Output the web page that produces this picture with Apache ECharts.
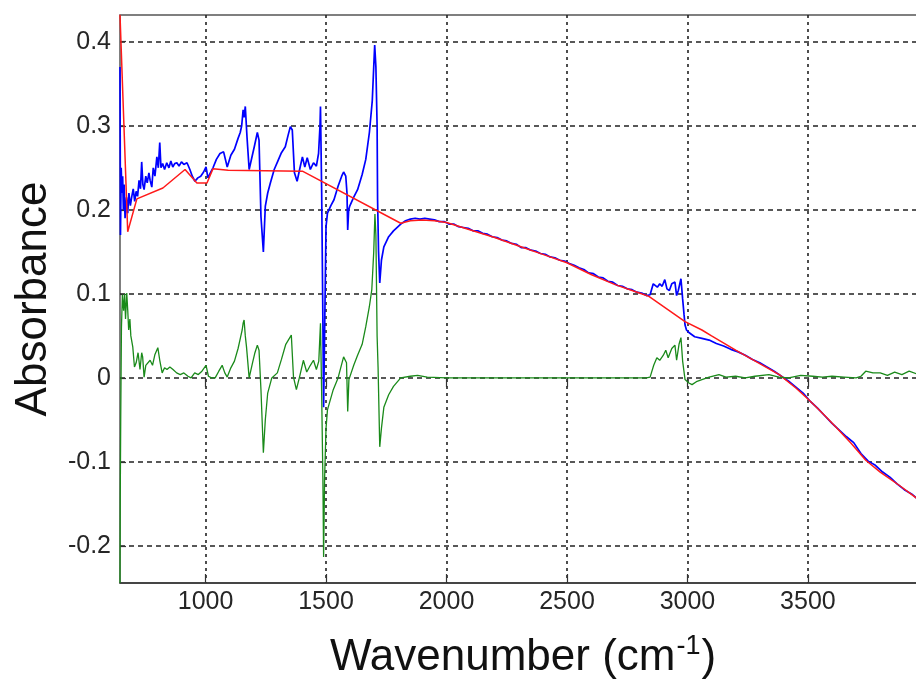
<!DOCTYPE html>
<html>
<head>
<meta charset="utf-8">
<script src="https://cdn.jsdelivr.net/npm/echarts@6/dist/echarts.min.js"></script>
<style>html,body{margin:0;padding:0;background:#fff;}#c{width:916px;height:679px;}</style>
</head>
<body>
<div id="c"></div>
<script>
// ---- data (wavenumber, absorbance) ----
const xTicks = [1000, 1500, 2000, 2500, 3000, 3500];
const yTicks = [-0.2, -0.1, 0, 0.1, 0.2, 0.3, 0.4];
const xRange = [645, 3990];
const yRange = [-0.244, 0.4318];

const blueSpectrum = [
[645,0.37],[647,0.17],[650,0.25],[653,0.22],[656,0.24],[659,0.20],[662,0.23],[666,0.19],[672,0.215],[677,0.196],[682,0.22],[688,0.205],[694,0.216],[700,0.225],[706,0.21],[712,0.222],[718,0.216],[724,0.235],[730,0.225],[735,0.257],[740,0.23],[745,0.224],[752,0.24],[758,0.232],[765,0.244],[770,0.235],[777,0.227],[783,0.25],[790,0.24],[798,0.263],[804,0.25],[810,0.28],[815,0.25],[822,0.255],[830,0.248],[839,0.256],[848,0.25],[856,0.258],[864,0.251],[872,0.255],[881,0.256],[890,0.252],[900,0.257],[910,0.254],[923,0.256],[935,0.248],[945,0.24],[956,0.234],[968,0.238],[980,0.24],[992,0.245],[1002,0.251],[1010,0.238],[1020,0.244],[1031,0.25],[1045,0.26],[1060,0.267],[1075,0.269],[1090,0.251],[1105,0.265],[1120,0.272],[1135,0.285],[1144,0.292],[1150,0.30],[1156,0.319],[1160,0.31],[1165,0.323],[1172,0.287],[1181,0.248],[1192,0.262],[1203,0.276],[1215,0.292],[1222,0.283],[1230,0.192],[1240,0.15],[1248,0.204],[1258,0.22],[1269,0.232],[1285,0.248],[1300,0.258],[1315,0.268],[1331,0.275],[1342,0.288],[1352,0.299],[1360,0.295],[1369,0.244],[1380,0.234],[1392,0.25],[1402,0.263],[1412,0.251],[1422,0.262],[1435,0.248],[1448,0.256],[1460,0.252],[1469,0.267],[1475,0.300],[1477,0.323],[1482,0.22],[1486,0.10],[1490,-0.035],[1494,0.05],[1500,0.18],[1506,0.196],[1520,0.205],[1533,0.212],[1550,0.228],[1565,0.24],[1573,0.245],[1582,0.24],[1587,0.22],[1590,0.176],[1594,0.2],[1598,0.204],[1615,0.215],[1631,0.224],[1650,0.242],[1665,0.26],[1680,0.292],[1692,0.33],[1698,0.37],[1702,0.396],[1707,0.37],[1712,0.30],[1714,0.212],[1718,0.15],[1723,0.113],[1730,0.14],[1740,0.156],[1760,0.168],[1780,0.175],
[1810,0.183],[1830,0.187],[1850,0.189],[1870,0.19],[1890,0.189],[1910,0.19],[1930,0.189],[1950,0.188],[1970,0.186],[1990,0.186],[2010,0.183],[2030,0.183],[2050,0.180],[2070,0.179],[2090,0.178],[2110,0.175],[2130,0.175],[2150,0.172],[2170,0.171],[2190,0.168],[2210,0.167],[2230,0.164],[2250,0.163],[2270,0.160],[2290,0.159],[2310,0.155],[2330,0.155],[2350,0.152],[2370,0.151],[2390,0.148],[2410,0.147],[2430,0.144],[2450,0.143],[2470,0.140],[2490,0.139],[2510,0.136],[2530,0.134],[2550,0.131],[2570,0.129],[2590,0.125],[2610,0.124],[2630,0.120],[2650,0.119],[2670,0.115],[2690,0.114],[2710,0.110],[2730,0.109],[2750,0.106],[2770,0.105],[2790,0.102],[2810,0.101],[2830,0.098],[2845,0.099],[2858,0.112],[2865,0.113],[2875,0.108],[2885,0.112],[2895,0.109],[2906,0.117],[2915,0.106],[2925,0.104],[2935,0.112],[2948,0.114],[2955,0.098],[2962,0.104],[2973,0.118],[2980,0.094],[2986,0.075],[2990,0.063],[2996,0.057],[3006,0.054],
[3030,0.049],[3060,0.047],[3090,0.045],[3120,0.041],[3150,0.038],[3180,0.034],[3210,0.031],[3240,0.027],[3270,0.022],[3300,0.018],[3330,0.013],[3360,0.008],[3390,0.002],[3420,-0.004],[3450,-0.011],[3480,-0.018],[3510,-0.028],[3540,-0.036],[3570,-0.045],[3600,-0.054],[3630,-0.062],[3660,-0.07],[3690,-0.077],[3720,-0.09],[3750,-0.099],[3780,-0.104],[3810,-0.112],[3840,-0.118],[3870,-0.126],[3900,-0.133],[3930,-0.138],[3960,-0.145],[3990,-0.151]
];

const redBaseline = [
[645,0.432],[677,0.174],[715,0.213],[823,0.226],[915,0.248],[964,0.232],[1006,0.232],[1031,0.249],[1094,0.247],[1402,0.246],[1810,0.184],[1850,0.187],[1900,0.188],[1950,0.187],[2000,0.185],[2100,0.176],[2200,0.167],[2300,0.157],[2400,0.147],[2500,0.137],[2600,0.123],[2700,0.111],[2800,0.101],[2840,0.097],[2990,0.067],[3060,0.057],[3100,0.050],[3200,0.033],[3300,0.017],[3381,0.004],[3450,-0.012],[3500,-0.025],[3550,-0.039],[3615,-0.058],[3680,-0.078],[3740,-0.098],[3800,-0.112],[3880,-0.128],[3960,-0.145],[3990,-0.151]
];

const greenCorrected = [
[645,-0.244],[646,-0.143],[648,-0.05],[651,0.06],[655,0.099],[660,0.08],[664,0.10],[668,0.07],[673,0.101],[677,0.081],[681,0.057],[686,0.07],[690,0.05],[698,0.037],[705,0.013],[712,0.018],[720,0.03],[728,0.01],[735,0.03],[739,0.025],[745,0.001],[752,0.015],[760,0.013],[770,0.021],[780,0.015],[790,0.028],[802,0.036],[810,0.021],[820,0.006],[830,0.012],[840,0.01],[852,0.013],[865,0.01],[880,0.006],[895,0.004],[910,0.006],[927,0.002],[940,0.0],[955,0.006],[970,0.004],[985,0.008],[1002,0.015],[1012,0.002],[1025,0.0],[1040,0.0],[1055,0.008],[1069,0.015],[1080,0.006],[1090,0.001],[1105,0.012],[1120,0.02],[1135,0.035],[1145,0.048],[1152,0.057],[1156,0.065],[1160,0.069],[1165,0.05],[1170,0.037],[1181,0.0],[1195,0.018],[1205,0.03],[1215,0.039],[1222,0.033],[1230,-0.014],[1240,-0.089],[1248,-0.05],[1258,-0.018],[1275,0.0],[1298,0.006],[1315,0.022],[1333,0.04],[1356,0.051],[1365,0.001],[1377,-0.014],[1390,0.001],[1406,0.021],[1420,0.007],[1435,0.015],[1448,0.021],[1460,0.01],[1470,0.02],[1477,0.065],[1482,-0.02],[1487,-0.12],[1490,-0.213],[1494,-0.121],[1500,-0.06],[1506,-0.038],[1530,-0.014],[1550,0.0],[1573,0.025],[1585,0.018],[1590,-0.04],[1595,-0.002],[1615,0.015],[1631,0.027],[1650,0.04],[1665,0.061],[1680,0.085],[1690,0.105],[1698,0.15],[1703,0.195],[1707,0.17],[1712,0.05],[1716,0.013],[1723,-0.082],[1730,-0.06],[1740,-0.035],[1760,-0.02],[1780,-0.01],[1810,0.0],[1850,0.002],[1880,0.003],[1920,0.001],[2000,0.0],[2300,0.0],[2750,0.0],[2830,0.0],[2845,0.001],[2860,0.015],[2873,0.024],[2885,0.021],[2900,0.027],[2910,0.033],[2920,0.024],[2935,0.035],[2948,0.039],[2955,0.021],[2965,0.04],[2973,0.048],[2980,0.02],[2990,-0.002],[3006,-0.006],[3019,-0.008],[3040,-0.004],[3060,-0.002],[3090,0.001],[3131,0.004],[3160,0.001],[3200,0.002],[3240,0.0],[3280,0.002],[3338,0.004],[3380,0.001],[3420,0.0],[3470,0.003],[3520,0.002],[3560,0.001],[3600,0.002],[3650,0.001],[3700,0.0],[3720,0.002],[3740,0.008],[3770,0.006],[3800,0.006],[3830,0.003],[3860,0.007],[3890,0.004],[3920,0.008],[3950,0.005],[3970,0.007],[3990,0.006]
];

const chart = echarts.init(document.getElementById('c'), null, {renderer: 'canvas'});
const FONT = 'Liberation Sans, Arial, sans-serif';
const gridDashX = {show: true, lineStyle: {color: '#222', width: 1.6, type: [3, 4]}};
const gridDashY = {show: true, lineStyle: {color: '#222', width: 1.6, type: [5, 4]}};

const option = {
  animation: false,
  backgroundColor: '#ffffff',
  grid: {left: 120, top: 15, width: 806, height: 568, show: true, borderColor: '#555', borderWidth: 1.5,
         containLabel: false, outerBoundsMode: 'none'},
  xAxis: [{
    type: 'value', min: xRange[0], max: xRange[1], position: 'bottom',
    axisLine: {show: true, onZero: false, lineStyle: {color: '#333', width: 1.5}},
    axisTick: {show: true, inside: true, length: 9, customValues: xTicks, lineStyle: {color: '#333', width: 1.2}},
    axisLabel: {customValues: xTicks, margin: 7, color: '#262626', fontSize: 25, fontFamily: FONT, formatter: v => String(v)},
    splitLine: gridDashX,
    name: '{a|Wavenumber (cm}{s|-1}{a|)}', nameLocation: 'middle', nameGap: 50,
    nameTextStyle: {rich: {
      a: {fontSize: 44, fontFamily: FONT, color: '#111', lineHeight: 50},
      s: {fontSize: 27, fontFamily: FONT, color: '#111', verticalAlign: 'top', lineHeight: 50, padding: [0, 1, 18, 1]}
    }}
  }, {
    type: 'value', min: xRange[0], max: xRange[1], position: 'top',
    axisLine: {show: false},
    axisTick: {show: true, inside: true, length: 9, customValues: xTicks, lineStyle: {color: '#333', width: 1.2}},
    axisLabel: {show: false}, splitLine: {show: false}
  }],
  yAxis: [{
    type: 'value', min: yRange[0], max: yRange[1],
    axisLine: {show: false},
    axisTick: {show: true, inside: true, length: 6, customValues: yTicks, lineStyle: {color: '#333', width: 1.2}},
    axisLabel: {customValues: yTicks, margin: 9, color: '#262626', fontSize: 25, fontFamily: FONT, formatter: v => String(v)},
    splitLine: gridDashY,
    name: 'Absorbance', nameLocation: 'middle', nameGap: 64,
    nameTextStyle: {fontSize: 44, fontFamily: FONT, color: '#111'}
  }],
  series: [
    {name: 'spectrum', type: 'line', data: blueSpectrum, showSymbol: false, symbol: 'none', sampling: null,
     lineStyle: {color: '#0000ff', width: 1.7}, z: 2},
    {name: 'baseline', type: 'line', data: redBaseline, showSymbol: false, symbol: 'none',
     lineStyle: {color: '#ff1a1a', width: 1.5}, z: 3},
    {name: 'corrected', type: 'line', data: greenCorrected, showSymbol: false, symbol: 'none',
     lineStyle: {color: '#1a8a1a', width: 1.3}, z: 4}
  ]
};
chart.setOption(option);
</script>
</body>
</html>
